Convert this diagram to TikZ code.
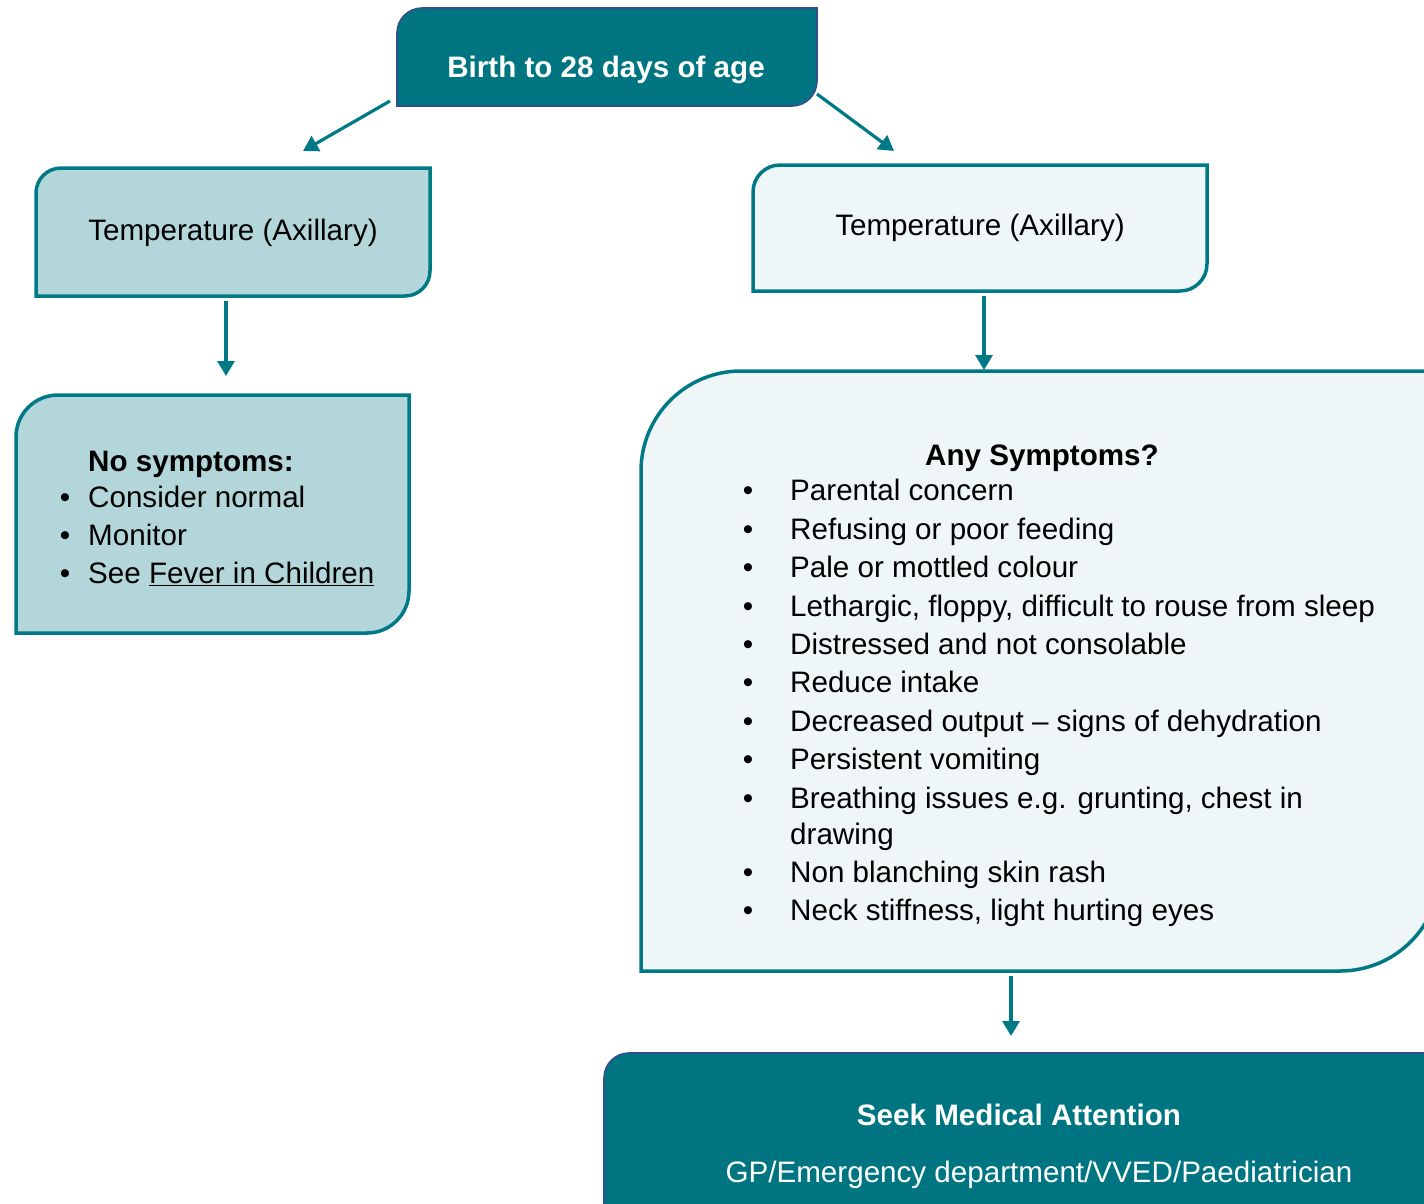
\documentclass[tikz,border=0pt]{standalone}
\usepackage{fontspec}
\setmainfont{Liberation Sans}
\usetikzlibrary{arrows.meta}
\definecolor{tealdark}{RGB}{0,117,130}
\definecolor{tealline}{RGB}{0,121,135}
\definecolor{tealpale}{RGB}{179,214,218}
\definecolor{tealwhite}{RGB}{239,246,247}
\definecolor{navyline}{RGB}{52,78,140}
\newcommand{\diagfont}{\fontsize{29.6}{38.5}\selectfont}
\tikzset{
  darkbox/.style={fill=tealdark, draw=navyline, line width=1.6pt},
  palebox/.style={fill=tealpale, draw=tealline, line width=3.5pt},
  whitebox/.style={fill=tealwhite, draw=tealline, line width=3.5pt},
  arr/.style={draw=tealline, line width=3.2pt, -{Triangle[width=17pt,length=15pt]}},
  txt/.style={inner sep=0pt, anchor=base, font=\diagfont},
  txtw/.style={txt, anchor=base west},
  bul/.style={txt, anchor=base},
}
\begin{document}
\begin{tikzpicture}[x=1pt, y=-1pt]
\useasboundingbox (0,0) rectangle (1424,1203);
\clip (0,0) rectangle (1424,1203);

% boxes
\path[darkbox] (397,106) -- (397,33) .. controls (397,19.2) and (408.2,8) .. (422,8) -- (817,8) -- (817,81) .. controls (817,94.8) and (805.8,106) .. (792,106) -- cycle;
\path[palebox] (36,296) -- (36,193) .. controls (36,179.2) and (47.2,168) .. (61,168) -- (430,168) -- (430,271) .. controls (430,284.8) and (418.8,296) .. (405,296) -- cycle;
\path[palebox] (16,633) -- (16,437) .. controls (16,413.8) and (34.8,395) .. (58,395) -- (409,395) -- (409,591) .. controls (409,614.2) and (390.2,633) .. (367,633) -- cycle;
\path[whitebox] (753,291) -- (753,192) .. controls (753,177.1) and (765.1,165) .. (780,165) -- (1207,165) -- (1207,264) .. controls (1207,278.9) and (1194.9,291) .. (1180,291) -- cycle;
\path[whitebox] (641,971) -- (641,471) .. controls (641,415.8) and (685.8,371) .. (741,371) -- (1440,371) -- (1440,871) .. controls (1440,926.2) and (1395.2,971) .. (1340,971) -- cycle;
\path[darkbox] (604,1260) -- (604,1078) .. controls (604,1064.2) and (615.2,1053) .. (629,1053) -- (1460,1053) -- (1460,1260) -- cycle;

% texts
\node[txt, text=white, font=\diagfont\bfseries] (birth) at (606,77) {Birth to 28 days of age};
\node[txt] (templ) at (233,240) {Temperature (Axillary)};
\node[txt] (tempr) at (980,235) {Temperature (Axillary)};

\node[txtw, font=\diagfont\bfseries] (nosym) at (88,471) {No symptoms:};
\node[bul] (nb1) at (65,507) {\textbullet};
\node[txtw] (n1) at (88,507) {Consider normal};
\node[bul] (nb2) at (65,545) {\textbullet};
\node[txtw] (n2) at (88,545) {Monitor};
\node[bul] (nb3) at (65,583) {\textbullet};
\node[txtw] (n3) at (88,583) {See \underline{Fever in Children}};

\node[txt, font=\diagfont\bfseries] (anysym) at (1042,465) {Any Symptoms?};
\foreach \y/\t [count=\i] in {500/Parental concern, 539/Refusing or poor feeding, 577/Pale or mottled colour, 616/{Lethargic, floppy, difficult to rouse from sleep}, 654/Distressed and not consolable, 692/Reduce intake, 731/Decreased output – signs of dehydration, 769/Persistent vomiting, 808/{Breathing issues e.g. grunting, chest in}, 882/Non blanching skin rash, 920/{Neck stiffness, light hurting eyes}}{
  \node[bul] (sb\i) at (748,\y) {\textbullet};
  \node[txtw] (s\i) at (790,\y) {\t};
}
\node[txtw] (s9b) at (790,844) {drawing};

\node[txt, text=white, font=\diagfont\bfseries] (seek) at (1019,1125) {Seek Medical Attention};
\node[txt, text=white] (gp) at (1039,1182) {GP/Emergency department/VVED/Paediatrician};

% connectors
\coordinate (a1s) at (390,101);
\coordinate (a1e) at (303,151);
\coordinate (a2s) at (817,94);
\coordinate (a2e) at (894,151);
\coordinate (a3s) at (226,301);
\coordinate (a3e) at (226,376);
\coordinate (a4s) at (984,296);
\coordinate (a4e) at (984,370);
\coordinate (a5s) at (1011,976);
\coordinate (a5e) at (1011,1036);
\draw[arr] (a1s) -- (a1e);
\draw[arr] (a2s) -- (a2e);
\draw[arr] (a3s) -- (a3e);
\draw[arr] (a4s) -- (a4e);
\draw[arr] (a5s) -- (a5e);
\end{tikzpicture}
\end{document}
